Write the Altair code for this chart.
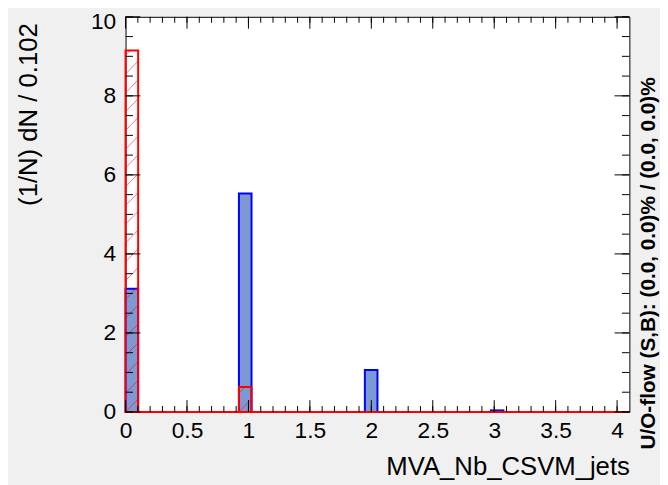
import altair as alt
import pandas as pd

# ---------------- data ----------------
n_bins = 40
x_min, x_max = 0.0, 4.1
bin_width = (x_max - x_min) / n_bins

signal = [3.12, 0, 0, 0, 0, 0, 0, 0, 0, 5.53,
          0, 0, 0, 0, 0, 0, 0, 0, 0, 1.06,
          0, 0, 0, 0, 0, 0, 0, 0, 0, 0.04,
          0, 0, 0, 0, 0, 0, 0, 0, 0, 0]
background = [9.15, 0, 0, 0, 0, 0, 0, 0, 0, 0.63,
              0, 0, 0, 0, 0, 0, 0, 0, 0, 0,
              0, 0, 0, 0, 0, 0, 0, 0, 0, 0,
              0, 0, 0, 0, 0, 0, 0, 0, 0, 0]

x_major = [0, 0.5, 1, 1.5, 2, 2.5, 3, 3.5, 4]
x_minor = [round(i * 0.1, 1) for i in range(41)]
y_major = [0, 2, 4, 6, 8, 10]
y_minor = [i * 0.5 for i in range(21)]

x_title = "MVA_Nb_CSVM_jets"
y_title = "(1/N) dN / 0.102"
side_text = ["U/O-flow (S,B): (0.0, 0.0)% / (0.0, 0.0)%"]

# ---------------- tables ----------------
edges0 = [x_min + i * bin_width for i in range(n_bins)]
hist = pd.DataFrame({
    "x0": edges0,
    "x1": [e + bin_width for e in edges0],
    "sig": signal,
    "bkg": background,
})

# hatch lines for the background histogram (pattern, derived from the bins)
rise = 0.33
spacing = 0.475
rows = []
for x0, x1, v in zip(hist["x0"], hist["x1"], hist["bkg"]):
    if v <= 0:
        continue
    k = -2
    while k * spacing < v + spacing:
        y0 = k * spacing
        t_lo = max(0.0, (0 - y0) / rise)
        t_hi = min(1.0, (v - y0) / rise)
        if t_hi > t_lo:
            rows.append({
                "hx0": x0 + (x1 - x0) * t_lo, "hy0": y0 + rise * t_lo,
                "hx1": x0 + (x1 - x0) * t_hi, "hy1": y0 + rise * t_hi,
            })
        k += 1
hatch = pd.DataFrame(rows)

W, H = 510, 400
FONT = "Liberation Sans"

xscale = alt.Scale(domain=[x_min, x_max], nice=False, zero=False)
yscale = alt.Scale(domain=[0, 10], nice=False, zero=False)

x_axis = alt.Axis(values=x_major, format="~g", ticks=False, domain=False, grid=False,
                  labelFont=FONT, labelFontSize=23, labelColor="black", labelPadding=8,
                  labelFlush=False, labelOverlap=False,
                  title=x_title, titleFont=FONT, titleFontSize=26, titleFontWeight="normal",
                  titleColor="black", titleX=W, titleY=63, titleAlign="right",
                  titleBaseline="alphabetic")
y_axis = alt.Axis(values=y_major, ticks=False, domain=False, grid=False,
                  labelFont=FONT, labelFontSize=23, labelColor="black", labelPadding=10,
                  labelOverlap=False,
                  labelOffset=alt.ExprRef("datum.value == 10 ? 5 : 0"),
                  title=y_title, titleFont=FONT, titleFontSize=26, titleFontWeight="normal",
                  titleColor="black", titleX=-85, titleY=6, titleAngle=270,
                  titleAlign="right", titleBaseline="bottom")


def X(field):
    return alt.X(field, scale=xscale, axis=x_axis)


def Y(field):
    return alt.Y(field, scale=yscale, axis=y_axis)


sig_bars = alt.Chart(hist).mark_rect(fill="#7d99d1", stroke="#0000ff", strokeWidth=2).encode(
    x=X("x0:Q"), x2="x1:Q", y=Y("sig:Q"), y2=alt.datum(0),
)

hatch_lines = alt.Chart(hatch).mark_rule(stroke="#ff0000", strokeWidth=1, opacity=0.55).encode(
    x=X("hx0:Q"), x2="hx1:Q", y=Y("hy0:Q"), y2="hy1:Q",
)

bkg_bars = alt.Chart(hist).mark_rect(fill="transparent", stroke="#ff0000", strokeWidth=2).encode(
    x=X("x0:Q"), x2="x1:Q", y=Y("bkg:Q"), y2=alt.datum(0),
)

df_xmaj = pd.DataFrame({"v": x_major})
df_xmin = pd.DataFrame({"v": x_minor})
df_ymaj = pd.DataFrame({"v": y_major})
df_ymin = pd.DataFrame({"v": y_minor})

tick = dict(color="black", strokeWidth=1)
ticks = [
    alt.Chart(df_xmaj).mark_rule(**tick).encode(x=X("v:Q"), y=alt.value(H), y2=alt.value(H - 12)),
    alt.Chart(df_xmin).mark_rule(**tick).encode(x=X("v:Q"), y=alt.value(H), y2=alt.value(H - 6)),
    alt.Chart(df_xmaj).mark_rule(**tick).encode(x=X("v:Q"), y=alt.value(0), y2=alt.value(12)),
    alt.Chart(df_xmin).mark_rule(**tick).encode(x=X("v:Q"), y=alt.value(0), y2=alt.value(6)),
    alt.Chart(df_ymaj).mark_rule(**tick).encode(y=Y("v:Q"), x=alt.value(0), x2=alt.value(15)),
    alt.Chart(df_ymin).mark_rule(**tick).encode(y=Y("v:Q"), x=alt.value(0), x2=alt.value(7.5)),
    alt.Chart(df_ymaj).mark_rule(**tick).encode(y=Y("v:Q"), x=alt.value(W), x2=alt.value(W - 15)),
    alt.Chart(df_ymin).mark_rule(**tick).encode(y=Y("v:Q"), x=alt.value(W), x2=alt.value(W - 7.5)),
]

side = alt.Chart(pd.DataFrame({"t": side_text})).mark_text(
    angle=270, align="left", baseline="middle", font=FONT, fontSize=21,
    fontWeight="bold", color="black",
).encode(text="t:N", x=alt.value(530), y=alt.value(438))

chart = alt.layer(sig_bars, hatch_lines, bkg_bars, *ticks, side).properties(
    width=W, height=H,
    autosize=alt.AutoSizeParams(type="none"),
    padding={"left": 119, "top": 6, "right": 31, "bottom": 71},
    background="#f0f0f0",
).configure_view(fill="white", stroke="black", strokeWidth=1)

chart.save("out.html", embed_options={"renderer": "svg", "actions": False})
